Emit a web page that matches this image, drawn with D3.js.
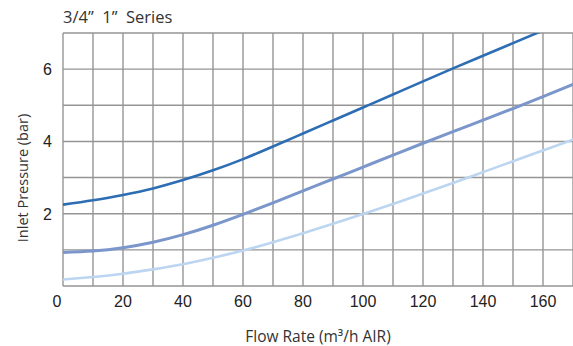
<!DOCTYPE html>
<html><head><meta charset="utf-8">
<script src="https://cdn.jsdelivr.net/npm/d3@7/dist/d3.min.js"></script>
<style>body{margin:0;background:#fff}svg{display:block}</style>
</head><body><svg id="c" width="573" height="346"></svg>
<script>
const flow = [0,10,20,30,40,50,60,70,80,90,100,110,120,130,140,150,160,170];
const seriesDark  = [2.25,2.37,2.52,2.70,2.93,3.20,3.51,3.86,4.22,4.58,4.94,5.30,5.66,6.02,6.37,6.72,7.07,7.42];
const seriesMid   = [0.93,0.97,1.06,1.21,1.42,1.68,1.98,2.30,2.63,2.96,3.29,3.62,3.95,4.27,4.59,4.91,5.24,5.58];
const seriesLight = [0.18,0.25,0.34,0.46,0.60,0.78,0.98,1.21,1.46,1.72,1.99,2.27,2.56,2.85,3.15,3.45,3.75,4.05];
const xTickLabels = [0,20,40,60,80,100,120,140,160];
const yTickLabels = [2,4,6];
const title = "3/4\u201D  1\u201D  Series";
const xTitle = "Flow Rate (m\u00B3/h AIR)";
const yTitle = "Inlet Pressure (bar)";

const svg = d3.select("#c");
const L=63, R=573, T=33, B=286;
const x = d3.scaleLinear().domain([0,170]).range([L,R]);
const y = d3.scaleLinear().domain([0,7]).range([B,T]);

svg.append("defs").append("clipPath").attr("id","clip")
  .append("rect").attr("x",L).attr("y",T).attr("width",R-L).attr("height",B-T);

const grid = svg.append("g").attr("stroke","#959595").attr("stroke-width",1.4);
grid.selectAll("line.v").data(d3.range(0,171,10)).enter().append("line")
  .attr("x1",d=>x(d)).attr("x2",d=>x(d)).attr("y1",T).attr("y2",B);
grid.selectAll("line.h").data(d3.range(0,8,1)).enter().append("line")
  .attr("x1",L).attr("x2",R).attr("y1",d=>y(d)).attr("y2",d=>y(d));

const line = d3.line().curve(d3.curveNatural).x((d,i)=>x(flow[i])).y(d=>y(d));
const lines = svg.append("g").attr("clip-path","url(#clip)").attr("fill","none");
[[seriesLight,"#bcd5f0",2.6],[seriesMid,"#7b96cb",3],[seriesDark,"#2d6db3",2.6]].forEach(([s,c,w])=>{
  lines.append("path").attr("d",line(s)).attr("stroke",c).attr("stroke-width",w).attr("stroke-linecap","round");
});

const tickFont = "Liberation Sans, Arial, sans-serif";
svg.append("g").selectAll("text").data(xTickLabels).enter().append("text")
  .attr("x",d=>x(d)+(d===0?-6:0)).attr("y",307).attr("text-anchor","middle")
  .attr("font-family",tickFont).attr("font-size",16).attr("fill","#222").text(d=>d);
svg.append("g").selectAll("text").data(yTickLabels).enter().append("text")
  .attr("x",52).attr("y",d=>y(d)+6).attr("text-anchor","end")
  .attr("font-family",tickFont).attr("font-size",16).attr("fill","#222").text(d=>d);

const labFont = "Open Sans, Noto Sans, sans-serif";
svg.append("text").attr("x",63).attr("y",23).attr("font-family",labFont).attr("font-size",16.5)
  .attr("fill","#333").attr("xml:space","preserve").style("white-space","pre").text(title);
svg.append("text").attr("x",318).attr("y",342).attr("text-anchor","middle").attr("font-family",labFont)
  .attr("font-size",15.5).attr("fill","#333").text(xTitle);
svg.append("text").attr("transform","translate(28,178) rotate(-90)").attr("text-anchor","middle")
  .attr("font-family",labFont).attr("font-size",14.5).attr("fill","#333").text(yTitle);
</script></body></html>
